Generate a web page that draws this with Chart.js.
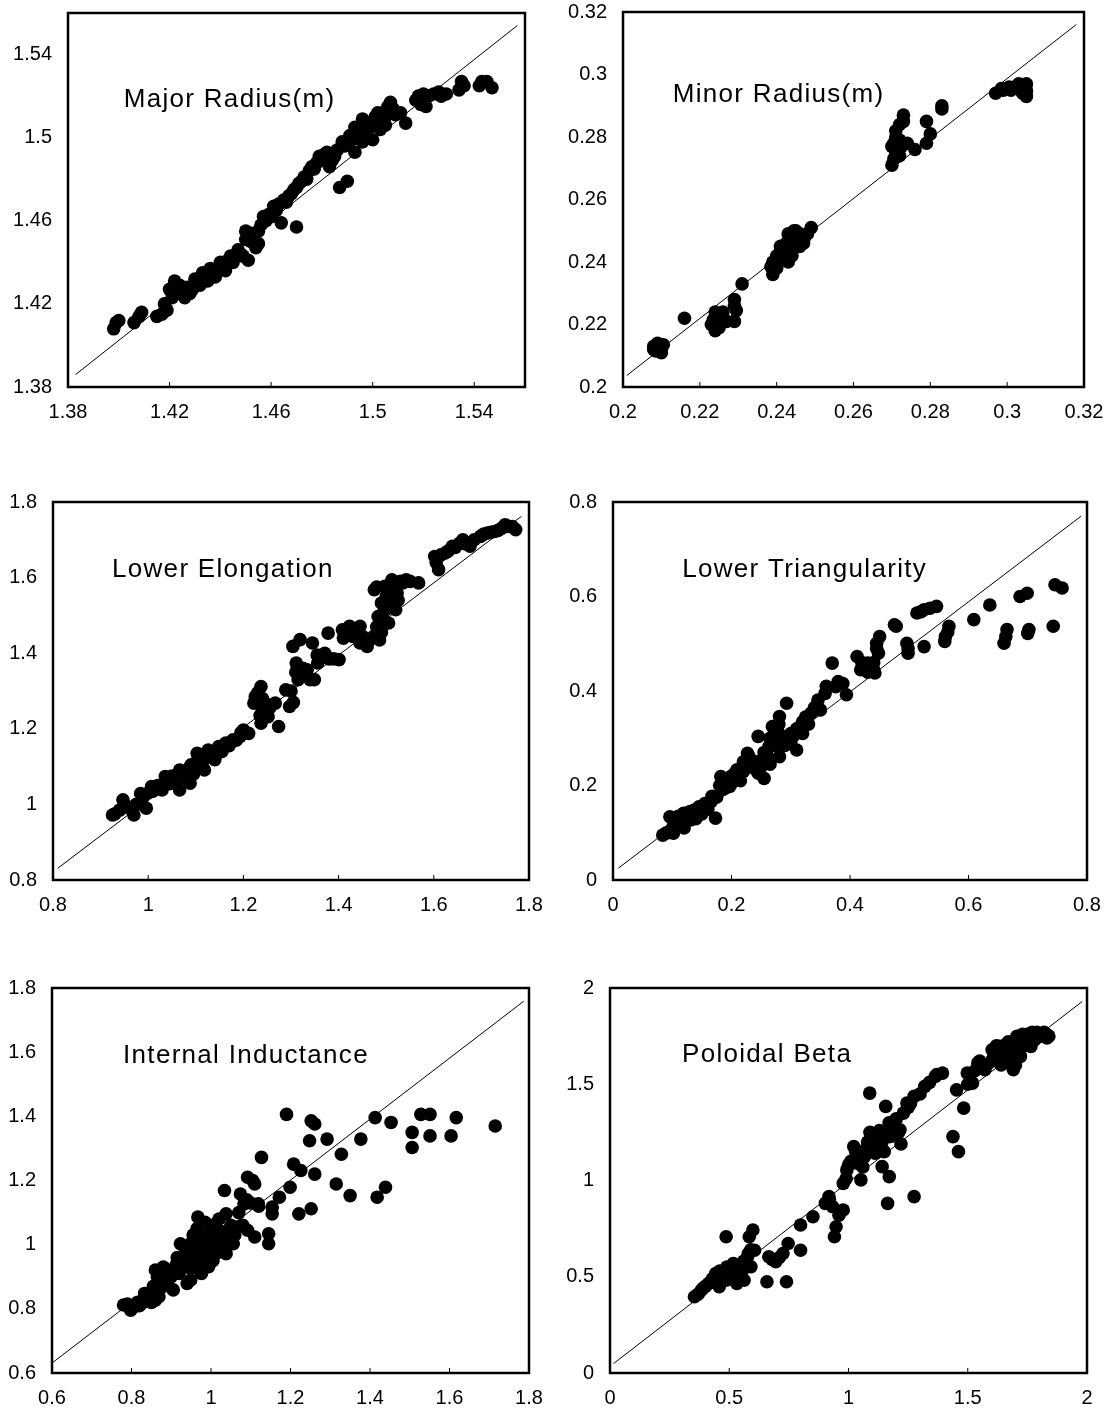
<!DOCTYPE html>
<html lang="en">
<head>
    <meta charset="UTF-8">
    <title>Predicted vs measured shape parameters</title>
    <script src="https://cdn.jsdelivr.net/npm/chart.js"></script>
    <style>
        body {
            margin: 0;
            background: white;
            overflow: hidden;
        }
        .page {
            position: relative;
            width: 1104px;
            height: 1412px;
        }
        .page canvas {
            position: absolute;
        }
    </style>
</head>
<body>
<div class="page" id="page"></div>
<script>
// [x, y] points
const majorRadius = [
    [1.398, 1.408], [1.399, 1.411], [1.400, 1.412], [1.406, 1.411], [1.408, 1.414], [1.409, 1.416],
    [1.415, 1.414], [1.417, 1.415], [1.419, 1.417], [1.418, 1.420], [1.420, 1.427], [1.422, 1.431],
    [1.423, 1.425], [1.426, 1.423], [1.427, 1.428], [1.429, 1.427], [1.421, 1.423], [1.424, 1.429],
    [1.431, 1.430], [1.434, 1.433], [1.437, 1.434], [1.439, 1.436], [1.441, 1.438], [1.443, 1.441],
    [1.446, 1.443], [1.448, 1.444], [1.451, 1.441], [1.450, 1.455], [1.452, 1.454], [1.455, 1.449],
    [1.454, 1.447], [1.452, 1.450], [1.457, 1.462], [1.461, 1.467], [1.464, 1.459], [1.465, 1.470],
    [1.468, 1.473], [1.470, 1.457], [1.471, 1.478], [1.473, 1.481], [1.476, 1.486], [1.479, 1.491],
    [1.482, 1.493], [1.485, 1.491], [1.483, 1.486], [1.487, 1.476], [1.490, 1.479], [1.489, 1.496],
    [1.492, 1.499], [1.493, 1.493], [1.494, 1.502], [1.496, 1.509], [1.499, 1.505], [1.500, 1.499],
    [1.501, 1.510], [1.503, 1.504], [1.504, 1.512], [1.506, 1.515], [1.507, 1.517], [1.511, 1.512],
    [1.513, 1.507], [1.497, 1.500], [1.502, 1.506], [1.517, 1.518], [1.520, 1.521], [1.521, 1.515],
    [1.524, 1.521], [1.527, 1.520], [1.529, 1.521], [1.534, 1.523], [1.536, 1.525], [1.542, 1.525],
    [1.545, 1.527], [1.547, 1.524],
    [1.425, 1.426], [1.428, 1.425], [1.430, 1.432], [1.432, 1.429], [1.433, 1.435], [1.435, 1.431],
    [1.436, 1.437], [1.438, 1.433], [1.440, 1.440], [1.442, 1.436], [1.444, 1.443], [1.445, 1.440],
    [1.447, 1.446], [1.449, 1.443], [1.450, 1.451], [1.453, 1.452], [1.455, 1.455], [1.456, 1.458],
    [1.458, 1.460], [1.459, 1.463], [1.460, 1.462], [1.462, 1.465], [1.463, 1.468], [1.466, 1.469],
    [1.467, 1.472], [1.469, 1.475], [1.470, 1.476], [1.472, 1.479], [1.474, 1.480], [1.475, 1.484],
    [1.477, 1.485], [1.478, 1.488], [1.480, 1.489], [1.481, 1.492], [1.484, 1.489], [1.486, 1.494],
    [1.488, 1.498], [1.490, 1.497], [1.491, 1.501], [1.493, 1.505], [1.495, 1.504], [1.496, 1.498],
    [1.498, 1.507], [1.500, 1.508], [1.502, 1.512], [1.505, 1.510], [1.508, 1.514], [1.505, 1.506],
    [1.509, 1.511], [1.519, 1.516], [1.522, 1.520], [1.526, 1.522], [1.535, 1.527], [1.543, 1.527],
    [1.518, 1.520]
];
const minorRadius = [
    [0.208, 0.212], [0.209, 0.213], [0.210, 0.212], [0.209, 0.214], [0.210, 0.211], [0.208, 0.213],
    [0.216, 0.222], [0.224, 0.222], [0.225, 0.219], [0.226, 0.224], [0.223, 0.220], [0.227, 0.221],
    [0.224, 0.224], [0.229, 0.228], [0.229, 0.226], [0.229, 0.221], [0.231, 0.233], [0.239, 0.236],
    [0.239, 0.240], [0.240, 0.242], [0.241, 0.245], [0.243, 0.240], [0.244, 0.242], [0.243, 0.249],
    [0.245, 0.250], [0.247, 0.247], [0.248, 0.249], [0.249, 0.251], [0.241, 0.243], [0.246, 0.245],
    [0.239, 0.238], [0.244, 0.247], [0.270, 0.271], [0.270, 0.277], [0.271, 0.280], [0.272, 0.284],
    [0.273, 0.287], [0.272, 0.274], [0.274, 0.278], [0.276, 0.276], [0.271, 0.275], [0.272, 0.279],
    [0.279, 0.278], [0.280, 0.281], [0.279, 0.285], [0.283, 0.289], [0.283, 0.290], [0.297, 0.294],
    [0.299, 0.295], [0.302, 0.296], [0.305, 0.295], [0.305, 0.293], [0.305, 0.297], [0.304, 0.294],
    [0.301, 0.295], [0.303, 0.297],
    [0.2085, 0.2115], [0.2105, 0.2135], [0.224, 0.218], [0.226, 0.221], [0.225, 0.223], [0.2235, 0.2215],
    [0.240, 0.238], [0.2405, 0.240], [0.242, 0.241], [0.2425, 0.246], [0.244, 0.2445], [0.245, 0.248],
    [0.246, 0.249], [0.247, 0.246], [0.2445, 0.250], [0.2385, 0.2385], [0.2705, 0.273], [0.2705, 0.278],
    [0.271, 0.282], [0.2725, 0.277], [0.273, 0.285], [0.2715, 0.279], [0.2985, 0.2955], [0.3045, 0.2965],
    [0.305, 0.2945], [0.3005, 0.296], [0.2295, 0.2245]
];
const lowerElongation = [
    [0.925, 0.972], [0.947, 1.012], [0.970, 0.972], [0.984, 1.029], [0.996, 0.990], [1.007, 1.047],
    [1.029, 1.038], [1.036, 1.074], [1.051, 1.065], [1.066, 1.091], [1.066, 1.038], [1.081, 1.082],
    [1.088, 1.056], [1.103, 1.109], [1.103, 1.135], [1.118, 1.091], [1.126, 1.144], [1.140, 1.118],
    [1.148, 1.153], [1.163, 1.162], [1.178, 1.171], [1.193, 1.180], [1.200, 1.197], [1.211, 1.188],
    [0.940, 0.985], [0.960, 0.990], [1.020, 1.050], [1.045, 1.055], [1.075, 1.070], [1.095, 1.080],
    [1.110, 1.120], [1.130, 1.130], [1.155, 1.140], [1.170, 1.155], [1.222, 1.268], [1.237, 1.312],
    [1.245, 1.268], [1.252, 1.232], [1.237, 1.215], [1.274, 1.206], [1.267, 1.268], [1.289, 1.303],
    [1.297, 1.259], [1.304, 1.418], [1.319, 1.436], [1.311, 1.374], [1.319, 1.347], [1.334, 1.356],
    [1.349, 1.330], [1.345, 1.427], [1.356, 1.374], [1.371, 1.400], [1.378, 1.453], [1.401, 1.383],
    [1.408, 1.462], [1.423, 1.471], [1.431, 1.444], [1.445, 1.427], [1.445, 1.471], [1.460, 1.418],
    [1.475, 1.444], [1.486, 1.435], [1.483, 1.497], [1.475, 1.568], [1.490, 1.533], [1.497, 1.577],
    [1.505, 1.480], [1.512, 1.594], [1.520, 1.515], [1.523, 1.559], [1.535, 1.586], [1.542, 1.594],
    [1.568, 1.586], [1.602, 1.656], [1.610, 1.621], [1.624, 1.665], [1.639, 1.683], [1.654, 1.691],
    [1.661, 1.700], [1.676, 1.683], [1.698, 1.709], [1.713, 1.718], [1.728, 1.722], [1.743, 1.731],
    [1.758, 1.735], [1.772, 1.727],
    [0.930, 0.975], [0.955, 0.995], [0.975, 1.000], [0.990, 1.020], [1.000, 1.030], [1.010, 1.035],
    [1.040, 1.060], [1.050, 1.075], [1.060, 1.070], [1.070, 1.080], [1.085, 1.095], [1.090, 1.105],
    [1.100, 1.100], [1.105, 1.125], [1.115, 1.115], [1.120, 1.135], [1.135, 1.140], [1.145, 1.135],
    [1.150, 1.150], [1.160, 1.155], [1.175, 1.165], [1.185, 1.170], [1.195, 1.190], [1.225, 1.285],
    [1.230, 1.295], [1.240, 1.280], [1.240, 1.250], [1.235, 1.235], [1.255, 1.255], [1.300, 1.300],
    [1.305, 1.270], [1.310, 1.350], [1.315, 1.330], [1.325, 1.360], [1.330, 1.345], [1.340, 1.330],
    [1.355, 1.395], [1.365, 1.390], [1.380, 1.385], [1.390, 1.385], [1.410, 1.440], [1.420, 1.450],
    [1.435, 1.460], [1.450, 1.445], [1.455, 1.425], [1.465, 1.435], [1.480, 1.470], [1.490, 1.455],
    [1.495, 1.510], [1.500, 1.550], [1.505, 1.520], [1.510, 1.545], [1.515, 1.570], [1.525, 1.540],
    [1.530, 1.590], [1.480, 1.575], [1.550, 1.590], [1.605, 1.640], [1.615, 1.660], [1.630, 1.670],
    [1.645, 1.680], [1.665, 1.690], [1.685, 1.700], [1.705, 1.715], [1.720, 1.720], [1.735, 1.725],
    [1.750, 1.740], [1.765, 1.735]
];
const lowerTriangularity = [
    [0.084, 0.095], [0.096, 0.134], [0.102, 0.099], [0.110, 0.120], [0.119, 0.141], [0.131, 0.127],
    [0.137, 0.148], [0.155, 0.162], [0.167, 0.177], [0.173, 0.131], [0.182, 0.219], [0.185, 0.191],
    [0.197, 0.198], [0.209, 0.233], [0.227, 0.268], [0.233, 0.240], [0.245, 0.226], [0.251, 0.254],
    [0.245, 0.304], [0.263, 0.282], [0.269, 0.325], [0.281, 0.346], [0.293, 0.374], [0.281, 0.261],
    [0.304, 0.304], [0.310, 0.275], [0.316, 0.325], [0.334, 0.353], [0.346, 0.381], [0.358, 0.395],
    [0.370, 0.459], [0.376, 0.409], [0.388, 0.416], [0.394, 0.392], [0.412, 0.473], [0.418, 0.445],
    [0.430, 0.459], [0.442, 0.438], [0.445, 0.501], [0.448, 0.480], [0.478, 0.537], [0.496, 0.501],
    [0.498, 0.480], [0.513, 0.565], [0.525, 0.572], [0.546, 0.579], [0.525, 0.494], [0.561, 0.515],
    [0.567, 0.537], [0.609, 0.551], [0.636, 0.582], [0.663, 0.515], [0.660, 0.501], [0.665, 0.530],
    [0.687, 0.600], [0.699, 0.607], [0.700, 0.522], [0.702, 0.530], [0.743, 0.537], [0.746, 0.625],
    [0.758, 0.618], [0.120, 0.110], [0.140, 0.130], [0.160, 0.150], [0.190, 0.210], [0.200, 0.220],
    [0.215, 0.210], [0.220, 0.250], [0.240, 0.250], [0.255, 0.270], [0.270, 0.290], [0.285, 0.300],
    [0.300, 0.290], [0.320, 0.310], [0.330, 0.330], [0.110, 0.135], [0.093, 0.100], [0.127, 0.143],
    [0.255, 0.215], [0.265, 0.245], [0.350, 0.360], [0.440, 0.460], [0.450, 0.515],
    [0.090, 0.100], [0.100, 0.110], [0.105, 0.125], [0.115, 0.130], [0.125, 0.135], [0.130, 0.145],
    [0.145, 0.155], [0.150, 0.140], [0.165, 0.165], [0.175, 0.175], [0.180, 0.200], [0.190, 0.195],
    [0.200, 0.205], [0.205, 0.225], [0.210, 0.215], [0.220, 0.230], [0.225, 0.245], [0.230, 0.260],
    [0.235, 0.250], [0.240, 0.235], [0.250, 0.240], [0.255, 0.260], [0.260, 0.265], [0.265, 0.300],
    [0.275, 0.285], [0.280, 0.310], [0.290, 0.285], [0.295, 0.300], [0.300, 0.310], [0.310, 0.320],
    [0.320, 0.335], [0.325, 0.345], [0.340, 0.365], [0.280, 0.330], [0.360, 0.410], [0.380, 0.420],
    [0.420, 0.460], [0.430, 0.440], [0.440, 0.445], [0.445, 0.490], [0.475, 0.540], [0.520, 0.568],
    [0.535, 0.575], [0.565, 0.525], [0.560, 0.505], [0.498, 0.490]
];
const internalInductance = [
    [0.780, 0.812], [0.807, 0.807], [0.825, 0.817], [0.842, 0.827], [0.860, 0.827], [0.833, 0.848],
    [0.860, 0.921], [0.878, 0.869], [0.905, 0.859], [0.914, 0.941], [0.923, 1.003], [0.931, 0.931],
    [0.949, 0.890], [0.949, 0.972], [0.967, 1.024], [0.976, 0.910], [0.967, 1.086], [0.985, 0.962],
    [0.994, 1.034], [1.012, 1.065], [1.012, 0.972], [1.021, 1.014], [1.038, 1.096], [1.034, 1.169],
    [1.047, 1.034], [1.056, 1.003], [1.065, 1.055], [1.074, 1.158], [1.083, 1.127], [1.092, 1.210],
    [1.110, 1.189], [1.110, 1.024], [1.119, 1.127], [1.092, 1.045], [1.127, 1.272], [1.145, 1.034],
    [1.145, 1.003], [1.154, 1.096], [1.154, 1.117], [1.172, 1.148], [1.190, 1.406], [1.199, 1.179],
    [1.208, 1.251], [1.226, 1.231], [1.221, 1.096], [1.248, 1.324], [1.252, 1.386], [1.261, 1.376],
    [1.261, 1.220], [1.252, 1.112], [1.292, 1.329], [1.315, 1.189], [1.328, 1.282], [1.350, 1.153],
    [1.377, 1.329], [1.413, 1.396], [1.418, 1.148], [1.439, 1.179], [1.453, 1.381], [1.506, 1.350],
    [1.506, 1.303], [1.528, 1.406], [1.551, 1.406], [1.551, 1.339], [1.604, 1.339], [1.617, 1.396],
    [1.715, 1.370], [0.798, 0.796], [0.869, 0.838], [0.887, 0.890], [0.940, 0.879], [0.994, 0.931],
    [1.038, 0.972],
    [0.790, 0.815], [0.800, 0.810], [0.815, 0.820], [0.820, 0.810], [0.830, 0.830], [0.845, 0.840],
    [0.850, 0.820], [0.855, 0.870], [0.865, 0.900], [0.870, 0.860], [0.880, 0.905], [0.890, 0.875],
    [0.895, 0.920], [0.900, 0.900], [0.910, 0.930], [0.915, 0.960], [0.920, 0.910], [0.930, 0.955],
    [0.935, 0.990], [0.940, 0.940], [0.945, 1.000], [0.950, 0.925], [0.955, 1.030], [0.960, 0.960],
    [0.960, 0.995], [0.965, 1.050], [0.970, 0.940], [0.975, 0.985], [0.980, 1.020], [0.985, 1.070],
    [0.990, 0.990], [1.000, 1.010], [1.000, 1.050], [1.005, 0.950], [1.010, 1.030], [1.020, 1.080],
    [1.025, 0.990], [1.030, 1.040], [1.040, 1.010], [1.050, 1.060], [1.060, 1.030], [1.070, 1.100],
    [1.080, 1.060], [1.090, 1.140], [1.100, 1.130], [1.105, 1.200], [1.120, 1.120], [0.880, 0.930],
    [0.870, 0.920]
];
const poloidalBeta = [
    [0.354, 0.396], [0.383, 0.430], [0.413, 0.465], [0.443, 0.517], [0.458, 0.448], [0.487, 0.708],
    [0.487, 0.482], [0.502, 0.534], [0.517, 0.569], [0.532, 0.465], [0.547, 0.534], [0.562, 0.482],
    [0.577, 0.604], [0.584, 0.708], [0.599, 0.743], [0.591, 0.552], [0.606, 0.638], [0.658, 0.474],
    [0.666, 0.604], [0.695, 0.578], [0.725, 0.621], [0.747, 0.673], [0.740, 0.474], [0.799, 0.638],
    [0.799, 0.769], [0.851, 0.812], [0.903, 0.881], [0.918, 0.916], [0.933, 0.864], [0.948, 0.760],
    [0.941, 0.708], [0.978, 0.847], [0.978, 0.985], [0.993, 1.055], [1.022, 1.176], [1.037, 1.090],
    [1.052, 1.003], [1.067, 1.124], [1.089, 1.454], [1.097, 1.228], [1.112, 1.142], [1.141, 1.072],
    [1.156, 1.385], [1.164, 0.881], [1.171, 1.020], [1.171, 1.228], [1.186, 1.298], [1.216, 1.263],
    [1.230, 1.350], [1.245, 1.402], [1.275, 1.437], [1.275, 0.916], [1.320, 1.489], [1.364, 1.541],
    [1.394, 1.558], [1.438, 1.228], [1.453, 1.471], [1.461, 1.150], [1.483, 1.376], [1.498, 1.558],
    [1.520, 1.506], [1.542, 1.610], [1.572, 1.575], [1.602, 1.679], [1.632, 1.645], [1.632, 1.697],
    [1.661, 1.679], [1.676, 1.610], [1.691, 1.714], [1.706, 1.749], [1.721, 1.645], [1.750, 1.731],
    [1.765, 1.697], [1.780, 1.766], [1.810, 1.749], [1.832, 1.740], [1.691, 1.575],
    [0.370, 0.410], [0.390, 0.440], [0.400, 0.450], [0.420, 0.470], [0.430, 0.490], [0.450, 0.500],
    [0.460, 0.530], [0.470, 0.520], [0.480, 0.500], [0.490, 0.550], [0.500, 0.490], [0.510, 0.520],
    [0.520, 0.550], [0.530, 0.500], [0.540, 0.560], [0.550, 0.510], [0.560, 0.580], [0.570, 0.550],
    [0.580, 0.620], [0.590, 0.640], [0.680, 0.590], [0.710, 0.600], [0.920, 0.900], [0.960, 0.820],
    [0.990, 1.010], [1.000, 1.080], [1.010, 1.100], [1.030, 1.150], [1.040, 1.120], [1.060, 1.070],
    [1.070, 1.160], [1.080, 1.200], [1.090, 1.250], [1.100, 1.180], [1.120, 1.210], [1.130, 1.260],
    [1.140, 1.200], [1.150, 1.150], [1.160, 1.250], [1.170, 1.300], [1.180, 1.230], [1.190, 1.270],
    [1.200, 1.320], [1.210, 1.250], [1.220, 1.190], [1.250, 1.380], [1.260, 1.400], [1.300, 1.450],
    [1.340, 1.510], [1.370, 1.550], [1.500, 1.500], [1.510, 1.550], [1.530, 1.570], [1.550, 1.620],
    [1.580, 1.600], [1.600, 1.620], [1.610, 1.650], [1.620, 1.700], [1.640, 1.660], [1.650, 1.700],
    [1.660, 1.640], [1.670, 1.720], [1.680, 1.660], [1.700, 1.700], [1.710, 1.730], [1.720, 1.690],
    [1.730, 1.760], [1.740, 1.700], [1.750, 1.760], [1.760, 1.720], [1.770, 1.770], [1.780, 1.730],
    [1.790, 1.770], [1.800, 1.760], [1.820, 1.770], [1.830, 1.760], [1.840, 1.750], [1.700, 1.600],
    [1.640, 1.600]
];

// reference line ends [x, y] as drawn in each panel
const majorLine = [[1.383, 1.386], [1.557, 1.554]];
const minorLine = [[0.201, 0.2037], [0.318, 0.316]];
const elongLine = [[0.810, 0.831], [1.784, 1.762]];
const triLine = [[0.009, 0.025], [0.790, 0.770]];
const indLine = [[0.600, 0.631], [1.787, 1.759]];
const betaLine = [[0.015, 0.049], [1.980, 1.930]];

// tick labels
const majorTicks = [1.38, 1.42, 1.46, 1.5, 1.54];
const minorTicks = [0.2, 0.22, 0.24, 0.26, 0.28, 0.3, 0.32];
const elongTicks = [0.8, 1, 1.2, 1.4, 1.6, 1.8];
const triTicks = [0, 0.2, 0.4, 0.6, 0.8];
const indTicks = [0.6, 0.8, 1, 1.2, 1.4, 1.6, 1.8];
const betaTicks = [0, 0.5, 1, 1.5, 2];

const titles = ["Major Radius(m)", "Minor Radius(m)", "Lower Elongation",
    "Lower Triangularity", "Internal Inductance", "Poloidal Beta"];

// plot boxes on the page and title anchors (fractions of the box)
const panels = [
    { title: titles[0], points: majorRadius, line: majorLine, ticks: majorTicks, min: 1.38, max: 1.56,
      box: { l: 68, t: 13, r: 525, b: 387 }, fx: 0.122, fy: 0.233 },
    { title: titles[1], points: minorRadius, line: minorLine, ticks: minorTicks, min: 0.2, max: 0.32,
      box: { l: 623, t: 12, r: 1084, b: 387 }, fx: 0.108, fy: 0.221 },
    { title: titles[2], points: lowerElongation, line: elongLine, ticks: elongTicks, min: 0.8, max: 1.8,
      box: { l: 53, t: 502, r: 529, b: 880 }, fx: 0.124, fy: 0.18 },
    { title: titles[3], points: lowerTriangularity, line: triLine, ticks: triTicks, min: 0, max: 0.8,
      box: { l: 613, t: 502, r: 1087, b: 880 }, fx: 0.146, fy: 0.18 },
    { title: titles[4], points: internalInductance, line: indLine, ticks: indTicks, min: 0.6, max: 1.8,
      box: { l: 52, t: 988, r: 529, b: 1373 }, fx: 0.149, fy: 0.177 },
    { title: titles[5], points: poloidalBeta, line: betaLine, ticks: betaTicks, min: 0, max: 2,
      box: { l: 610, t: 988, r: 1087, b: 1373 }, fx: 0.151, fy: 0.174 },
];

const LEFT = 64, TOP = 13, RIGHT = 24, BOTTOM = 48;

// frame, inward ticks on the bottom edge, and the panel caption
const framePlugin = {
    id: "frame",
    afterDatasetsDraw(chart, args, opts) {
        const { ctx, chartArea: a, scales } = chart;
        ctx.save();
        ctx.strokeStyle = "#000";
        ctx.lineWidth = 1;
        scales.x.ticks.forEach(t => {
            const px = scales.x.getPixelForValue(t.value);
            ctx.beginPath();
            ctx.moveTo(px, a.bottom);
            ctx.lineTo(px, a.bottom - 5);
            ctx.stroke();
        });
        ctx.lineWidth = 2.5;
        ctx.strokeRect(a.left, a.top, a.width, a.height);
        ctx.font = '26px "Liberation Sans", Arial, sans-serif';
        if ("letterSpacing" in ctx) ctx.letterSpacing = "1.3px";
        ctx.fillStyle = "#000";
        ctx.textBaseline = "middle";
        ctx.textAlign = "left";
        ctx.fillText(opts.text, a.left + a.width * opts.fx, a.top + a.height * opts.fy);
        ctx.restore();
    }
};

const page = document.getElementById("page");
const fmt = v => String(+Number(v).toFixed(4));

// keep label overhang from shrinking the plot box
const noOverhang = s => {
    s.paddingTop = 0;
    s.paddingBottom = 0;
    s.paddingLeft = 0;
    s.paddingRight = 0;
};

panels.forEach(p => {
    const canvas = document.createElement("canvas");
    const w = (p.box.r - p.box.l) + LEFT + RIGHT;
    const h = (p.box.b - p.box.t) + TOP + BOTTOM;
    canvas.width = w;
    canvas.height = h;
    canvas.style.width = w + "px";
    canvas.style.height = h + "px";
    canvas.style.left = (p.box.l - LEFT) + "px";
    canvas.style.top = (p.box.t - TOP) + "px";
    page.appendChild(canvas);

    const tickFont = { family: '"Liberation Sans", Arial, sans-serif', size: 20 };
    const setTicks = s => { s.ticks = p.ticks.map(v => ({ value: v })); };

    new Chart(canvas.getContext("2d"), {
        type: "scatter",
        data: {
            datasets: [
                {
                    data: p.line.map(([x, y]) => ({ x, y })),
                    showLine: true,
                    borderColor: "#000",
                    borderWidth: 1,
                    pointRadius: 0,
                },
                {
                    data: p.points.map(([x, y]) => ({ x, y })),
                    backgroundColor: "#000",
                    borderWidth: 0,
                    pointRadius: 6.8,
                    pointHoverRadius: 6.8,
                }
            ]
        },
        options: {
            responsive: false,
            animation: false,
            devicePixelRatio: 1,
            layout: { padding: { top: TOP, right: RIGHT, left: 0, bottom: 0 } },
            plugins: {
                legend: { display: false },
                tooltip: { enabled: false },
                frame: { text: p.title, fx: p.fx, fy: p.fy },
            },
            scales: {
                x: {
                    type: "linear",
                    min: p.min,
                    max: p.max,
                    afterBuildTicks: setTicks,
                    afterFit: s => { s.height = BOTTOM; noOverhang(s); },
                    grid: { display: false, drawTicks: false },
                    border: { display: false },
                    ticks: { color: "#000", font: tickFont, padding: 13, maxRotation: 0, autoSkip: false, callback: fmt },
                },
                y: {
                    type: "linear",
                    min: p.min,
                    max: p.max,
                    afterBuildTicks: setTicks,
                    afterFit: s => { s.width = LEFT; noOverhang(s); },
                    grid: { display: false, drawTicks: false },
                    border: { display: false },
                    ticks: { color: "#000", font: tickFont, padding: 16, autoSkip: false, callback: fmt },
                }
            }
        },
        plugins: [framePlugin]
    });
});
</script>
</body>
</html>
